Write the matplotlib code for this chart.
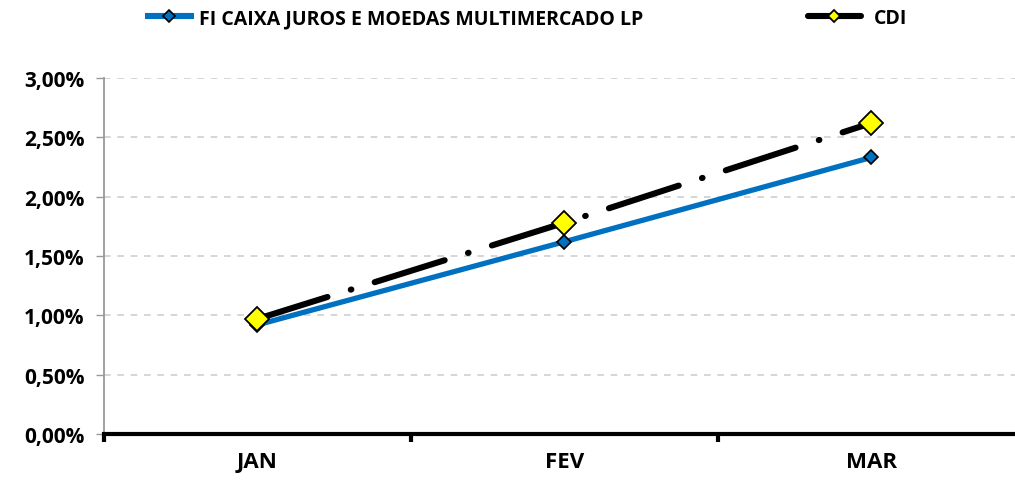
import numpy as np
import matplotlib.pyplot as plt
from matplotlib.ticker import FuncFormatter

# data
months = ["JAN", "FEV", "MAR"]
fundo = [0.92, 1.62, 2.33]   # FI CAIXA JUROS E MOEDAS MULTIMERCADO LP (%)
cdi = [0.97, 1.78, 2.62]     # CDI (%)
fundo_label = "FI CAIXA JUROS E MOEDAS MULTIMERCADO LP"
cdi_label = "CDI"

plt.rcParams['font.family'] = ['Open Sans', 'DejaVu Sans']
plt.rcParams['font.weight'] = 'bold'

fig = plt.figure(figsize=(10.15, 4.81), dpi=100)
ax = fig.add_axes([0.1025, 0.0956, 0.907, 0.7402])

x = np.arange(len(months))
l1, = ax.plot(x, fundo, color='#0070C0', lw=3.8, solid_capstyle='butt', marker='D',
              markersize=7, markerfacecolor='#0070C0', markeredgecolor='black',
              markeredgewidth=1.2, label=fundo_label, zorder=3)
l2, = ax.plot(x, cdi, color='black', lw=4.4, dashes=(12, 4, 0.1, 4), dash_capstyle='round',
              marker='D', markersize=12, markerfacecolor='#FFFF00', markeredgecolor='black',
              markeredgewidth=1.3, label=cdi_label, zorder=4)

ax.set_xlim(-0.5, 2.5)
ax.set_ylim(0, 3.0)
ax.set_yticks(np.arange(0, 3.01, 0.5))
ax.yaxis.set_major_formatter(FuncFormatter(lambda v, p: f"{v:.2f}%".replace('.', ',')))
ax.set_xticks(x)
ax.set_xticklabels(months, fontsize=16, fontweight='bold')
ax.set_xticks(np.arange(-0.5, 2.6, 1.0), minor=True)
ax.tick_params(axis='x', which='major', length=0, pad=12)
ax.tick_params(axis='x', which='minor', length=6, width=3, color='black', direction='out')
ax.tick_params(axis='y', length=6, width=1, color='#999999', labelsize=15, pad=8)

ax.grid(axis='y', color='#D0D0D0', linestyle=(0, (4, 4)), lw=1.2)
ax.set_axisbelow(True)
for s in ['top', 'right']:
    ax.spines[s].set_visible(False)
ax.spines['left'].set_color('#999999')
ax.spines['left'].set_linewidth(1.3)
ax.spines['bottom'].set_color('black')
ax.spines['bottom'].set_linewidth(3)
ax.spines['bottom'].set_zorder(5)

legs = []
for line, lab, xpos, hl, pad in [(l1, fundo_label, 145 / 1015, 2.5, 0.3),
                                 (l2, cdi_label, 808 / 1015, 2.7, 0.7)]:
    lg = fig.legend([line], [lab], loc='center left', bbox_to_anchor=(xpos, 1 - 19 / 481),
                    frameon=False, handlelength=hl, handletextpad=pad, borderpad=0,
                    borderaxespad=0, prop={'weight': 'bold', 'size': 14})
    for h in lg.legend_handles:
        h.set_markersize(6)
        h.set_linewidth(4.4)
    legs.append(lg)

fig.savefig("out.png", dpi=100)
